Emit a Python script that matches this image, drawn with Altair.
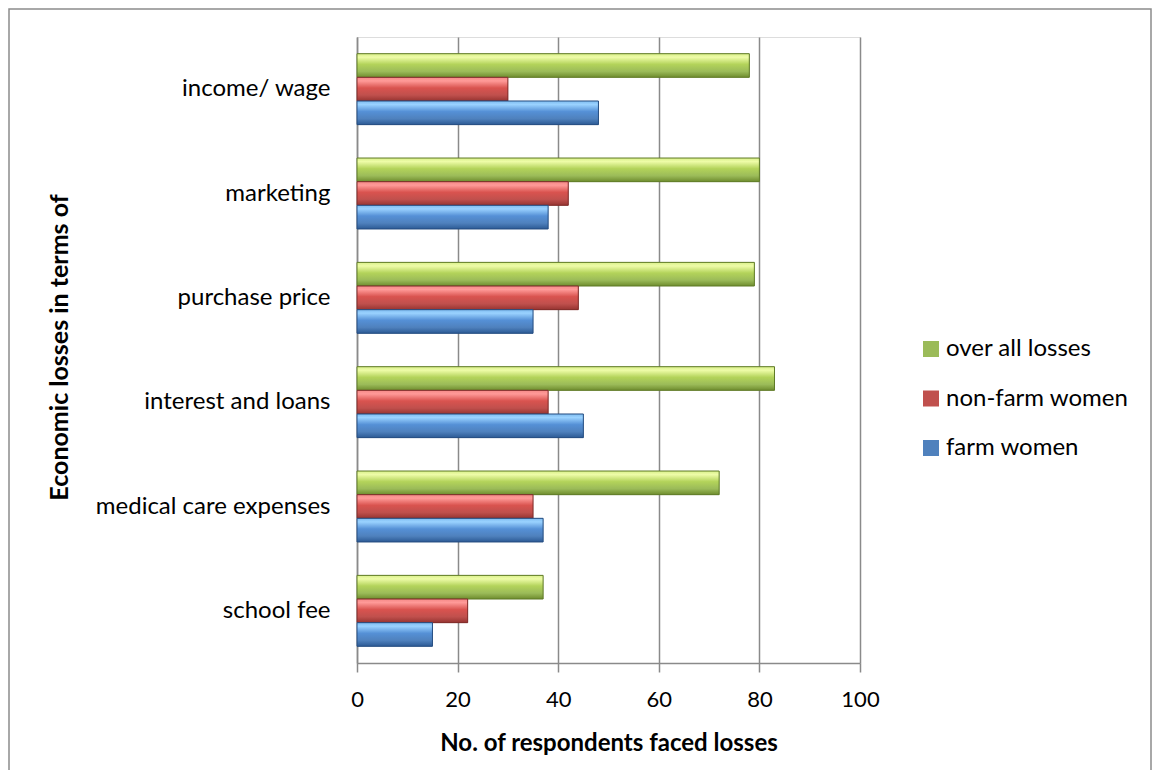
import altair as alt
import pandas as pd

categories = ["income/ wage", "marketing", "purchase price", "interest and loans",
              "medical care expenses\u00a0", "school fee"]
series_order = ["over all losses", "non-farm women", "farm women"]
overall = [78, 80, 79, 83, 72, 37]
nonfarm = [30, 42, 44, 38, 35, 22]
farm = [48, 38, 35, 45, 37, 15]
flat_colors = ["#9bbb59", "#c0504d", "#4f81bd"]

rows = []
for i, c in enumerate(categories):
    rows.append({"category": c, "series": series_order[0], "value": overall[i]})
    rows.append({"category": c, "series": series_order[1], "value": nonfarm[i]})
    rows.append({"category": c, "series": series_order[2], "value": farm[i]})
df = pd.DataFrame(rows)

FONT = "Lato"
W, H = 503, 626

x_enc = alt.X("value:Q", scale=alt.Scale(domain=[0, 100]),
              axis=alt.Axis(values=[0, 20, 40, 60, 80, 100], grid=True, gridColor="#8a8a8a",
                            gridWidth=1.5, domainColor="#8a8a8a", domainWidth=1.5,
                            tickColor="#8a8a8a", tickWidth=1.5, tickSize=9,
                            labelFont=FONT, labelFontSize=22, labelColor="#000000",
                            labelPadding=17, labelFlush=False,
                            title="No. of respondents faced losses",
                            titleFont=FONT, titleFontSize=24, titleFontWeight="bold",
                            titleColor="#000000", titleX=W / 2, titleY=80,
                            titleBaseline="middle", titleAlign="center"))
y_enc = alt.Y("category:N", sort=categories,
              scale=alt.Scale(domain=categories, paddingInner=0.32, paddingOuter=0.16),
              axis=alt.Axis(ticks=False, grid=False, domainColor="#8a8a8a", domainWidth=1.5,
                            labelFont=FONT, labelFontSize=24, labelColor="#000000",
                            labelPadding=27, labelLimit=400,
                            title="Economic losses in terms of",
                            titleFont=FONT, titleFontSize=25, titleFontWeight="bold",
                            titleColor="#000000", titleAngle=270, titleX=-298, titleY=310,
                            titleBaseline="middle", titleAlign="center"))
yoff = alt.YOffset("series:N", scale=alt.Scale(domain=series_order))

base = alt.Chart(df).encode(x=x_enc, y=y_enc, yOffset=yoff)

flat = base.mark_bar().encode(
    color=alt.Color("series:N", scale=alt.Scale(domain=series_order, range=flat_colors),
                    title=None,
                    legend=alt.Legend(orient="none", legendX=562, legendY=300,
                                      symbolType="square", symbolSize=256,
                                      symbolStrokeWidth=0, labelFont=FONT,
                                      labelFontSize=24, labelColor="#000000",
                                      labelLimit=400,
                                      rowPadding=25.5, labelOffset=3, padding=0))
)

grads = {
    "over all losses": (["#d9f08a", "#eefca8", "#b3d35a", "#9bbb59", "#6e8c2e"], "#5f7a27"),
    "non-farm women": (["#f58a88", "#ff9a98", "#d9534f", "#c0504d", "#963431"], "#7e2b29"),
    "farm women": (["#7fbcf0", "#9ad2ff", "#5590d6", "#4f81bd", "#2c5a94"], "#254d80"),
}
layers = [flat]
for s in series_order:
    cols, stroke = grads[s]
    g = alt.Gradient(gradient="linear", x1=0, x2=0, y1=0, y2=1,
                     stops=[alt.GradientStop(offset=0, color=cols[0]),
                            alt.GradientStop(offset=0.15, color=cols[1]),
                            alt.GradientStop(offset=0.45, color=cols[2]),
                            alt.GradientStop(offset=0.75, color=cols[3]),
                            alt.GradientStop(offset=1, color=cols[4])])
    layers.append(base.transform_filter(alt.datum.series == s)
                  .mark_bar(color=g, stroke=stroke, strokeWidth=1))

frame = alt.Chart(pd.DataFrame({"f": [0]})).mark_rect(
    fill="transparent", stroke="#8c8c8c", strokeWidth=1.5
).encode(x=alt.value(-348), x2=alt.value(794), y=alt.value(-28), y2=alt.value(735))
layers.append(frame)

chart = alt.layer(*layers).properties(
    width=W, height=H,
    padding={"left": 349, "top": 29, "right": 292, "bottom": 107},
    autosize=alt.AutoSizeParams(type="none"),
).configure_view(stroke=None).configure(background="#ffffff")

chart.save("out.html", embed_options={"renderer": "svg", "actions": False})
